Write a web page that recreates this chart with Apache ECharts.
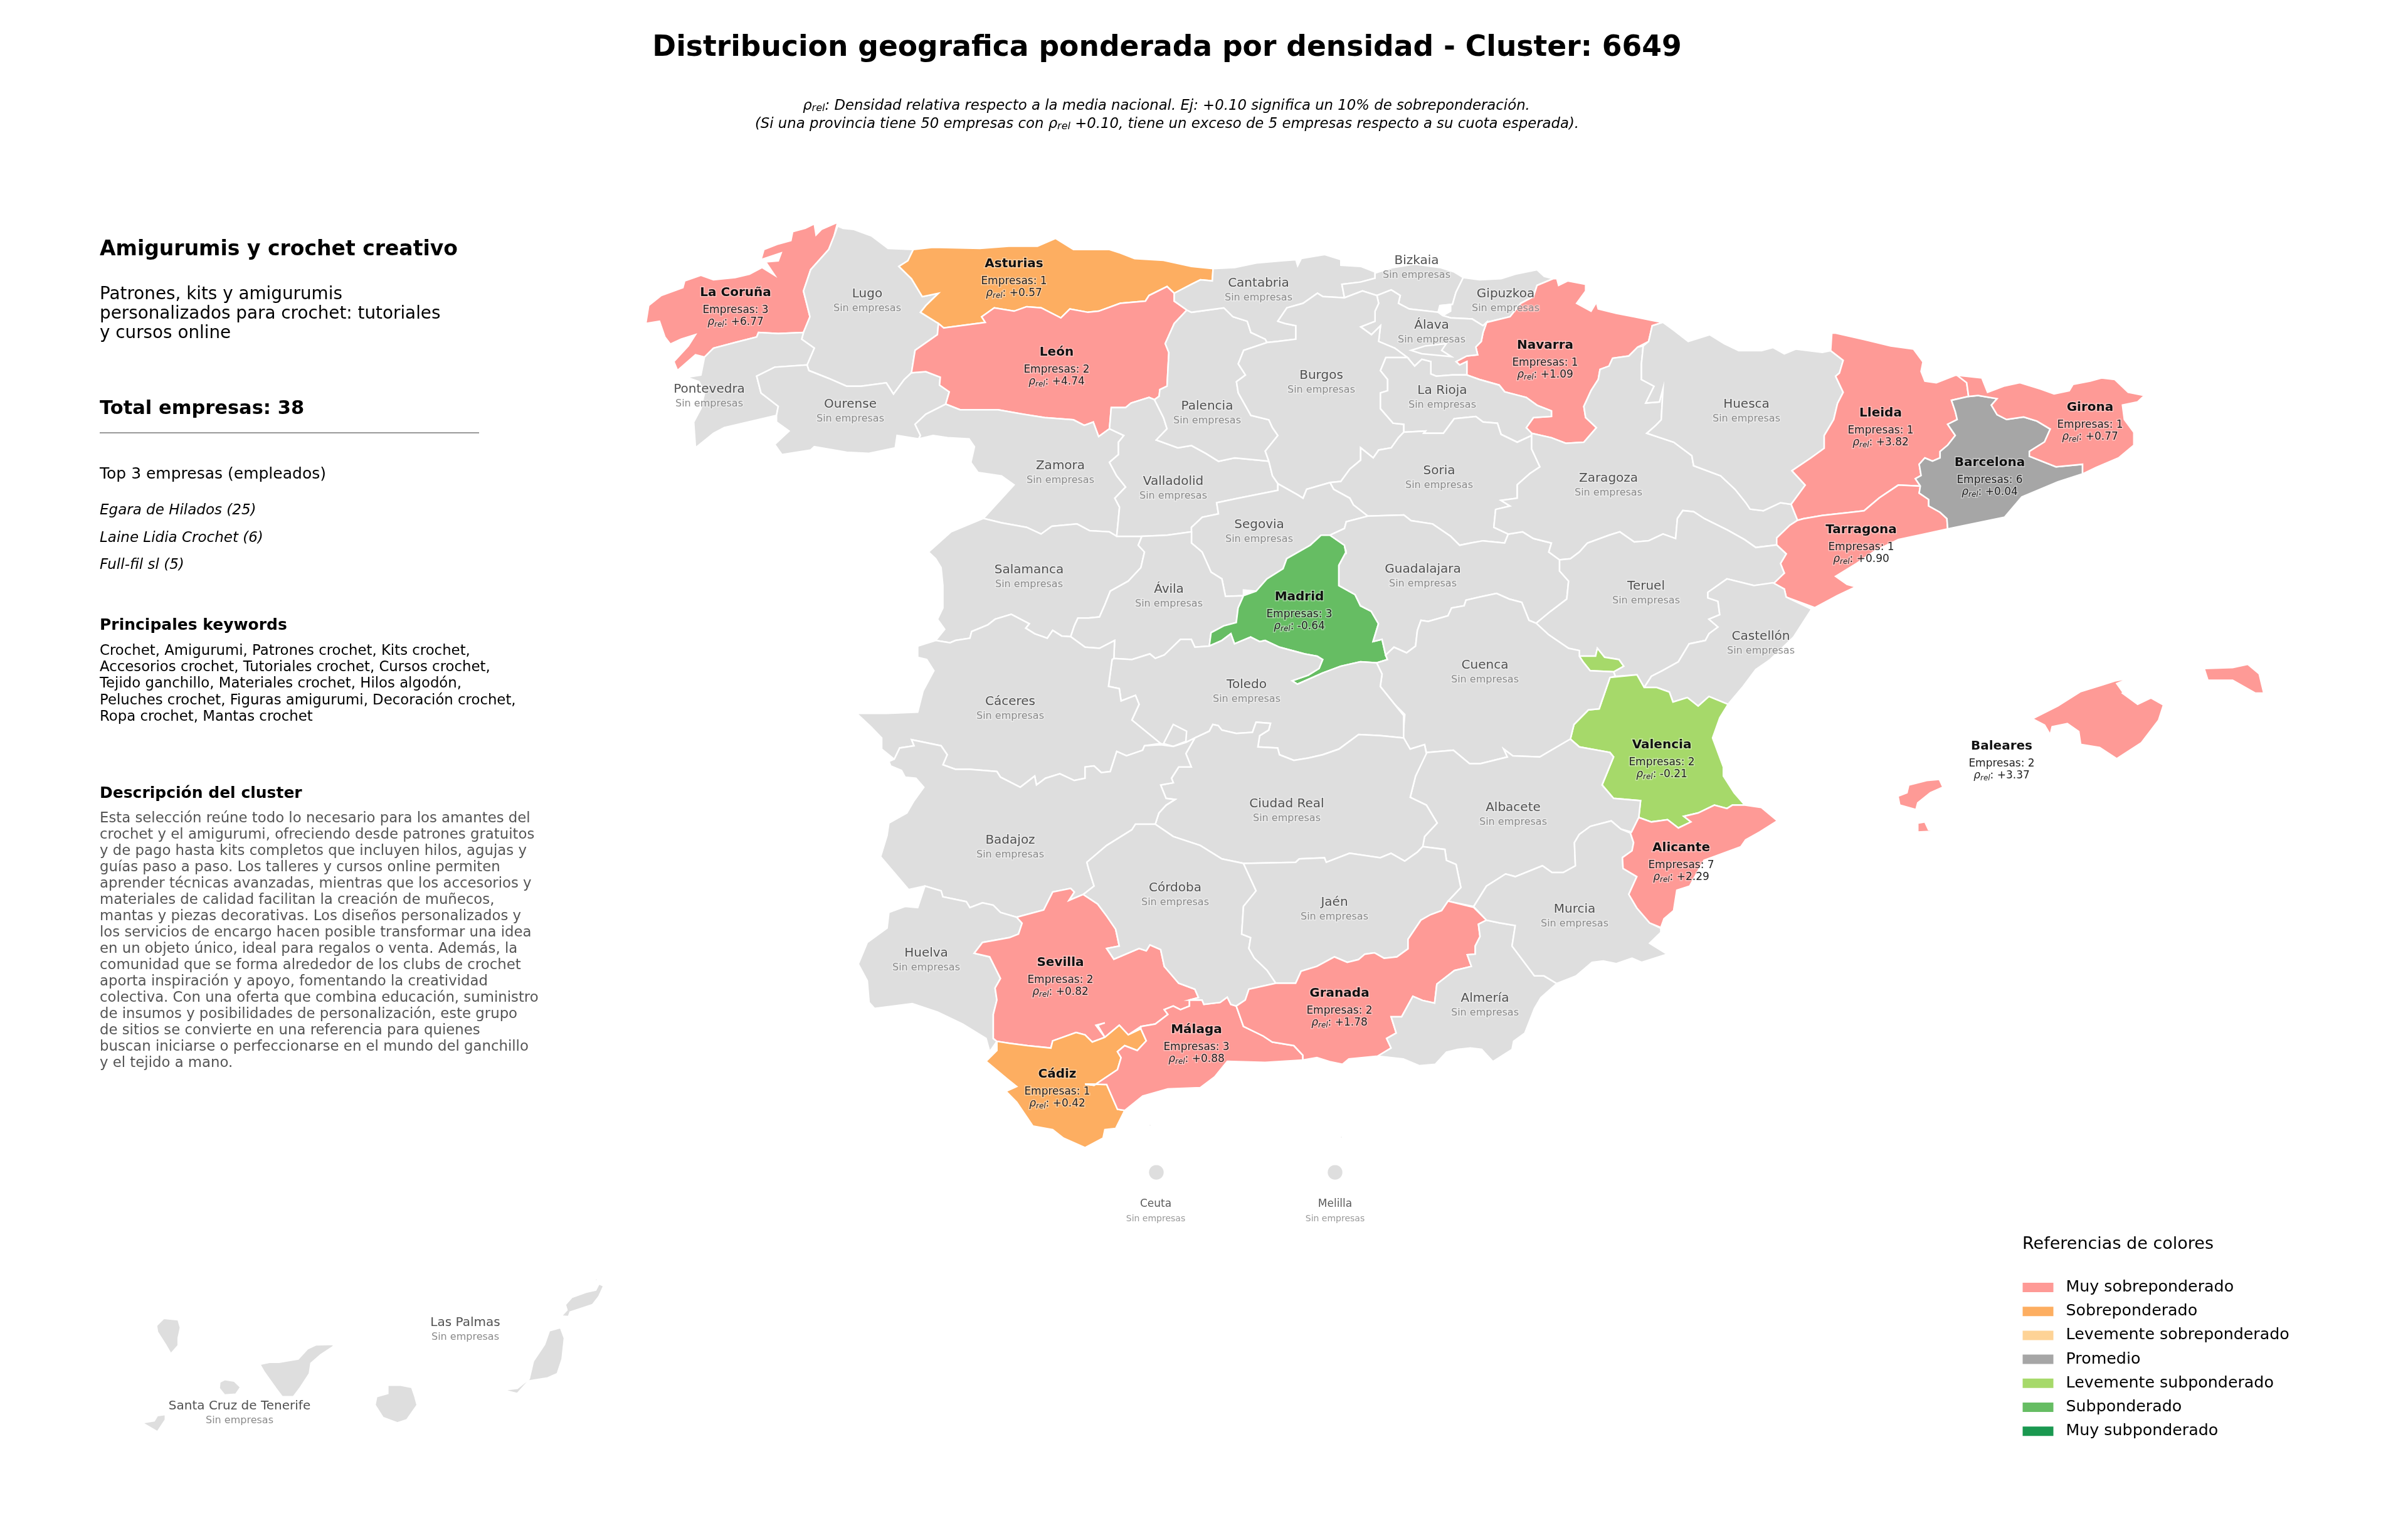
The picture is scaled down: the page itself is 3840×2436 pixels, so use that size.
<!DOCTYPE html>
<html><head><meta charset="utf-8">
<style>html,body{margin:0;padding:0;background:#fff}#c{width:3840px;height:2436px}</style>
<script src="https://cdn.jsdelivr.net/npm/echarts@6/dist/echarts.min.js"></script>
</head><body><div id="c"></div>
<script>
// ---------- data ----------
const CATEGORIES = ['Muy sobreponderado','Sobreponderado','Levemente sobreponderado','Promedio','Levemente subponderado','Subponderado','Muy subponderado'];
const CATEGORY_COLORS = ['#fe9a96','#fdae61','#fed396','#a6a6a6','#a6d96a','#66bd63','#1a9850'];
const NO_DATA_COLOR = '#dedede';
const ACTIVE_PROVINCES = ['La Coruña','Asturias','León','Navarra','Lleida','Girona','Barcelona','Tarragona','Madrid','Valencia','Alicante','Baleares','Sevilla','Málaga','Granada','Cádiz'];
const ACTIVE_EMPRESAS  = [3,1,2,1,1,1,6,1,3,2,7,2,2,3,2,1];
const ACTIVE_RHO       = [6.77,0.57,4.74,1.09,3.82,0.77,0.04,0.90,-0.64,-0.21,2.29,3.37,0.82,0.88,1.78,0.42];
const ACTIVE_CATEGORY  = [0,1,0,0,0,0,3,0,5,4,0,0,0,0,0,1];
const TITLE_TEXT = 'Distribucion geografica ponderada por densidad - Cluster: 6649';
const HEADLINE = 'Amigurumis y crochet creativo';
const TAGLINE = ['Patrones, kits y amigurumis','personalizados para crochet: tutoriales','y cursos online'];
const TOTAL_TEXT = 'Total empresas: 38';
const TOP_TITLE = 'Top 3 empresas (empleados)';
const TOP_COMPANIES = ['Egara de Hilados (25)','Laine Lidia Crochet (6)','Full-fil sl (5)'];
const KEYWORDS_TITLE = 'Principales keywords';
const KEYWORDS = ['Crochet, Amigurumi, Patrones crochet, Kits crochet,','Accesorios crochet, Tutoriales crochet, Cursos crochet,','Tejido ganchillo, Materiales crochet, Hilos algodón,','Peluches crochet, Figuras amigurumi, Decoración crochet,','Ropa crochet, Mantas crochet'];
const DESC_TITLE = 'Descripción del cluster';
const DESCRIPTION = ['Esta selección reúne todo lo necesario para los amantes del','crochet y el amigurumi, ofreciendo desde patrones gratuitos','y de pago hasta kits completos que incluyen hilos, agujas y','guías paso a paso. Los talleres y cursos online permiten','aprender técnicas avanzadas, mientras que los accesorios y','materiales de calidad facilitan la creación de muñecos,','mantas y piezas decorativas. Los diseños personalizados y','los servicios de encargo hacen posible transformar una idea','en un objeto único, ideal para regalos o venta. Además, la','comunidad que se forma alrededor de los clubs de crochet','aporta inspiración y apoyo, fomentando la creatividad','colectiva. Con una oferta que combina educación, suministro','de insumos y posibilidades de personalización, este grupo','de sitios se convierte en una referencia para quienes','buscan iniciarse o perfeccionarse en el mundo del ganchillo','y el tejido a mano.'];
const LEGEND_TITLE = 'Referencias de colores';

// ---------- map geometry: traced outlines, each token group "crop x,y ..." ----------
const CROPS = {a:[1000,330,1.742,2.8],b:[1900,330,1.742,2.8],c:[2700,480,1.6505,1.96],d:[1340,880,1.742,2.8],e:[2200,880,1.742,2.8],f:[1340,1380,1.742,2.613],g:[2100,1300,1.96,2.306],h:[200,2000,1.96,3]};
const OUTLINES = {
'La Coruña':['a 585,68 540,100 525,125 520,75 495,95 460,110 455,150 420,165 380,190 372,235 428,205 420,240 385,245 410,305 375,270 340,300 300,315 240,325 205,305 160,330 155,360 95,395 60,440 52,520 90,510 105,580 120,612 150,590 190,570 170,620 130,690 140,730 190,660 215,670 240,630 300,605 360,580 365,560 420,565 490,560 508,490 490,375 510,280 560,190 575,130'],
'Lugo':['a 585,85 600,95 630,100 680,130 725,185 795,190 780,240 755,265 790,320 820,400 865,385 830,440 815,470 865,520 862,570 800,640 790,740 770,770 740,835 720,785 650,800 610,800 560,765 505,730 500,705 520,630 485,590 490,560 508,490 490,375 510,280 560,190 575,130'],
'Pontevedra':['a 215,670 205,750 165,760 200,780 215,830 205,900 185,960 190,1075 240,1010 270,985 415,930 420,890 372,830 360,755 410,715 500,705 520,630 485,590 490,560 420,565 365,560 360,580 300,605 240,630'],
'Ourense':['a 500,705 505,730 560,765 610,800 650,800 720,785 740,835 770,770 790,740 830,735 870,760 868,795 895,825 885,880 830,925 800,970 815,1020 810,1035 750,1020 745,1075 670,1100 610,1095 520,1070 510,1085 430,1105 410,1060 450,1000 415,960 415,930 420,890 372,830 360,755 410,715'],
'Asturias':['a 795,190 850,180 980,185 1060,175 1140,175 1190,140 1240,190 1340,190 1370,205 1410,230 1490,238 1568,265 b 60,275 58,330 25,325 a 1568,345 1520,385 1500,355 1450,395 1440,420 1370,430 1310,465 1280,470 1230,455 1205,495 1150,450 1110,445 1075,465 1020,450 985,490 995,515 880,540 865,520 815,470 830,440 865,385 820,400 790,320 755,265 780,240'],
'León':['a 880,540 995,515 985,490 1020,450 1075,465 1110,445 1150,450 1205,495 1230,455 1280,470 1310,465 1370,430 1440,420 1450,395 1500,355 1520,385 1520,420 1555,460 1520,520 1495,610 1505,650 1500,800 1480,815 1478,845 1465,860 1450,850 1400,875 1385,895 1345,895 1340,990 1310,1025 1295,960 1270,975 1240,950 1160,940 1100,925 1030,905 970,905 925,905 885,880 895,825 868,795 870,760 830,735 790,740 800,640 862,570 865,520'],
'Zamora':['a 885,880 925,905 970,905 1030,905 1100,925 1160,940 1240,950 1270,975 1295,960 1310,1025 1340,990 1380,1020 1365,1050 1365,1105 1340,1140 1360,1200 1385,1250 1355,1300 1368,1340 1362,1440 1360,1470 1340,1450 1285,1445 1250,1415 1180,1425 1150,1460 1110,1430 1040,1410 990,1390 1075,1240 1040,1200 975,1185 955,1140 965,1070 950,1035 890,1030 850,1020 810,1035 815,1020 800,970 830,925'],
'Salamanca':['a 990,1390 1040,1410 1110,1430 1150,1460 1180,1425 1250,1415 1285,1445 1340,1450 1360,1470 1430,1470 1420,1510 d 845,0 835,70 800,130 750,175 735,235 720,290 690,295 660,295 650,330 640,378 615,375 590,350 575,385 540,365 515,340 525,320 475,278 430,300 410,325 365,355 360,385 320,395 305,405 265,395 290,345 270,300 285,250 285,150 280,70 265,30 245,0 a 900,1450'],
'Valladolid':['a 1465,860 1450,850 1400,875 1385,895 1345,895 1340,990 1380,1020 1365,1050 1365,1105 1340,1140 1360,1200 1385,1250 1355,1300 1368,1340 1362,1440 1360,1470 1430,1470 1500,1465 1568,1450 b 0,1430 30,1385 75,1370 70,1320 130,1300 240,1265 240,1235 225,1200 215,1135 120,1120 75,1135 40,1100 0,1065 a 1530,1075 1470,1040 1500,990 1490,940'],
'Palencia':['a 1555,460 b 0,470 90,450 115,490 155,510 165,560 205,590 210,605 145,640 130,700 150,750 125,780 130,830 165,930 215,950 225,985 240,1020 205,1090 215,1135 120,1120 75,1135 40,1100 0,1065 a 1530,1075 1470,1040 1500,990 1490,940 1465,860 1478,845 1480,815 1500,800 1505,650 1495,610 1520,520'],
'Cantabria':['b 60,275 120,270 180,250 250,240 290,235 295,262 305,230 370,212 415,235 415,260 470,265 510,290 510,318 470,335 418,345 425,405 365,400 350,385 310,430 265,450 240,510 260,520 290,530 290,590 240,600 210,605 205,590 165,560 155,510 115,490 90,450 0,470 a 1555,460 1520,420 1520,385 1568,345 b 25,325 58,330'],
'Bizkaia':['b 418,345 470,335 510,318 510,295 560,270 620,255 690,270 730,290 755,315 735,380 725,435 690,440 685,470 605,455 575,430 580,395 555,370 515,395 475,375 425,405'],
'Gipuzkoa':['b 755,315 800,325 860,320 900,300 960,280 980,310 1005,320 960,350 950,400 915,430 885,490 820,515 810,530 780,500 720,495 698,485 720,465 720,435 690,440 725,435 735,380'],
'Navarra':['b 1005,320 1015,320 1020,350 1045,330 1095,345 1095,375 1070,430 1110,465 1125,425 1130,455 1180,475 1230,490 1290,510 1310,515 1280,530 1270,600 1240,625 1215,665 1170,675 1160,710 1135,725 1130,770 1110,820 1090,890 1095,940 1125,985 1090,1050 1040,1055 1000,1030 945,1010 930,985 950,940 1000,935 1000,910 960,885 930,850 870,825 855,795 800,770 765,750 765,690 745,705 735,690 765,665 795,660 790,625 805,600 810,560 820,515 885,490 915,430 950,400 960,350'],
'Álava':['b 515,395 555,370 580,395 575,430 605,455 685,470 698,485 720,495 780,500 810,530 820,515 810,560 805,600 790,625 795,660 765,665 735,690 745,705 765,690 765,750 725,750 680,755 665,745 665,690 640,680 620,710 600,672 565,630 520,600 525,530 500,570 470,535 510,510 510,465 520,430'],
'Burgos':['b 210,605 240,600 290,590 290,530 260,520 240,510 265,450 310,430 350,385 365,400 425,405 475,375 515,395 520,430 510,465 510,510 470,535 500,570 525,530 520,600 565,630 600,672 540,672 525,730 545,770 545,820 525,830 525,900 560,965 590,970 590,1005 575,1030 555,1075 520,1085 505,1120 470,1075 470,1130 440,1170 415,1225 385,1230 320,1260 310,1300 295,1285 240,1235 225,1200 215,1135 205,1090 240,1020 225,985 215,950 165,930 130,830 125,780 150,750 130,700 145,640','b 610,640 640,655 722,668 695,640 708,610 650,620'],
'La Rioja':['b 540,672 600,672 620,710 640,680 665,690 665,745 680,755 725,750 765,750 800,770 855,795 870,825 930,850 960,885 1000,910 1000,935 950,940 930,985 945,1010 945,1020 905,1050 860,1015 850,965 810,960 790,935 730,945 700,1010 645,1010 650,1000 590,1005 590,970 560,965 525,900 525,830 545,820 545,770 525,730'],
'Soria':['b 385,1230 415,1225 440,1170 470,1130 470,1075 505,1120 520,1085 555,1075 575,1030 590,1005 650,1000 645,1010 700,1010 730,945 790,935 810,960 850,965 860,1015 905,1050 945,1020 945,1080 968,1160 940,1190 905,1240 905,1300 860,1310 885,1335 845,1350 840,1430 880,1460 870,1500 810,1490 775,1500 745,1510 720,1470 670,1415 610,1400 590,1375 490,1380 450,1330 440,1300 395,1260'],
'Segovia':['b 0,1430 30,1385 75,1370 70,1320 130,1300 240,1265 240,1235 295,1285 310,1300 320,1260 385,1230 395,1260 440,1300 450,1330 490,1380 430,1405 425,1435 385,1465 360,1465 330,1510 d 1240,30 1230,75 1185,120 1155,175 1120,170 1120,195 1070,198 1060,120 1030,90 1005,0 b 0,1500'],
'Ávila':['a 1430,1470 1500,1465 1568,1450 b 0,1500 d 1005,0 1030,90 1060,120 1070,198 1120,195 1105,250 1100,315 1065,330 1030,360 1025,420 985,425 975,390 945,390 900,460 875,475 860,455 810,480 760,475 762,395 720,430 680,425 640,378 650,330 660,295 690,295 720,290 735,235 750,175 800,130 835,70 845,0 a 1420,1510'],
'Madrid':['b 360,1465 385,1465 425,1510 430,1550 d 1405,0 1385,60 1385,150 1430,190 1445,240 1475,265 1495,320 1480,400 1505,390 1515,460 1520,480 1490,495 1445,490 1390,510 1340,540 1270,590 1255,575 1300,550 1330,520 1340,480 1325,465 1290,455 1220,425 1180,395 1165,400 1140,380 1095,410 1085,365 1060,395 1025,420 1030,360 1065,330 1100,315 1105,250 1120,195 1155,175 1185,120 1230,75 1240,30 b 330,1510'],
'Guadalajara':['b 385,1465 425,1435 430,1405 490,1380 590,1375 610,1400 670,1415 720,1470 745,1510 775,1500 810,1490 870,1500 880,1460 920,1450 950,1480 1000,1500 e 470,0 500,35 500,85 525,130 520,210 475,265 435,318 415,305 395,225 360,210 325,185 280,200 240,215 235,240 200,250 190,285 135,310 115,305 105,350 100,420 75,450 40,425 d 1515,460 1505,390 1480,400 1495,320 1475,265 1445,240 1430,190 1385,150 1385,60 1405,0 b 430,1550 425,1510'],
'Zaragoza':['b 945,1020 945,1010 1000,1030 1040,1055 1090,1050 1125,985 1095,940 1090,890 1110,820 1130,770 1135,725 1160,710 1170,675 1215,665 1240,625 1255,620 1250,700 1250,770 1285,800 1262,875 1300,870 1310,810 1305,950 1290,975 1265,1010 1340,1050 1390,1110 1395,1155 1470,1200 1510,1260 1540,1320 c 150,650 185,655 230,630 258,635 275,685 255,700 220,740 220,762 165,770 135,745 90,715 30,680 b 1395,1360 1365,1355 1350,1390 1345,1480 1310,1460 1270,1490 1230,1495 1190,1450 1160,1465 1100,1500 e 555,0 530,30 500,35 470,0 b 1000,1500 950,1480 920,1450 880,1460 840,1430 845,1350 885,1335 860,1310 905,1300 905,1240 940,1190 968,1160 945,1080'],
'Huesca':['b 1255,620 1270,600 1280,530 1310,515 1340,550 1380,600 1440,570 1480,610 c 120,155 180,155 210,145 240,165 270,150 340,160 362,155 395,185 385,225 375,235 395,285 380,320 370,370 345,420 345,460 310,490 260,530 295,575 258,635 230,630 185,655 150,650 b 1540,1320 1510,1260 1470,1200 1395,1155 1390,1110 1340,1050 1265,1010 1290,975 1305,950 1310,810 1300,870 1262,875 1285,800 1250,770 1250,700'],
'Lleida':['c 362,155 365,100 375,100 450,120 520,140 580,150 605,190 600,220 610,250 640,255 690,232 695,232 720,255 725,298 680,310 690,345 695,370 670,385 690,420 670,450 650,470 650,490 630,500 610,490 595,510 600,545 585,555 598,578 540,575 490,615 450,655 415,660 340,670 290,680 275,685 258,635 295,575 260,530 310,490 345,460 345,420 370,370 380,320 395,285 375,235 385,225 395,185'],
'Tarragona':['c 598,578 595,600 620,620 620,640 650,660 668,680 670,712 600,730 540,745 480,780 430,820 375,860 405,885 428,893 380,920 320,958 245,925 240,900 210,880 240,850 230,820 245,790 220,762 220,740 255,700 275,685 290,680 340,670 415,660 450,655 490,615 540,575','c 348,948 370,942 355,950'],
'Barcelona':['c 725,298 750,295 800,305 785,325 800,355 825,370 870,362 905,375 940,400 925,440 885,470 885,485 955,518 1025,510 1025,540 960,565 865,612 820,675 670,712 668,680 650,660 620,640 620,620 595,600 598,578 585,555 600,545 595,510 610,490 630,500 650,490 650,470 670,450 690,420 670,385 695,370 690,345 680,310'],
'Girona':['c 695,232 760,240 775,285 820,265 860,255 915,275 950,290 990,280 1000,260 1045,250 1075,240 1110,245 1145,285 1188,295 1170,315 1130,325 1135,370 1160,410 1160,450 1120,490 1060,520 1025,540 1025,510 955,518 885,485 885,470 925,440 940,400 905,375 870,362 825,370 800,355 785,325 800,305 750,295 725,298 720,255'],
'Teruel':['e 500,35 500,85 525,130 520,210 475,265 435,318 470,370 525,430 555,440 555,465 600,465 605,430 625,470 665,480 678,510 650,535 655,555 715,548 735,605 755,555 785,530 830,490 860,410 905,395 915,365 940,335 915,300 945,280 940,220 912,205 912,180 965,120 1040,150 1095,140 c 240,850 230,820 245,790 220,762 165,770 135,745 90,715 30,680 b 1395,1360 1365,1355 1350,1390 1345,1480 1310,1460 1270,1490 1230,1495 1190,1450 1160,1465 1100,1500 e 555,0 530,30'],
'Castellón':['e 735,605 770,605 805,625 815,670 855,650 885,688 915,645 968,680 1010,600 1045,525 1085,480 1150,380 1200,255 c 245,925 240,900 210,880 e 1040,150 965,120 912,180 912,205 940,220 945,280 915,300 940,335 915,365 905,395 860,410 830,490 785,530 755,555'],
'Valencia':['e 640,560 715,548 735,605 770,605 805,625 815,670 855,650 885,688 915,645 968,680 945,740 925,830 955,960 955,1000 985,1075 1015,1130 980,1130 965,1145 930,1130 885,1165 845,1180 865,1205 830,1232 800,1195 755,1205 720,1185 725,1110 650,1100 618,1040 650,915 640,895 555,870 530,835 540,770 580,705 610,700 625,630','e 555,465 600,465 605,430 625,470 665,480 678,510 650,535 585,530 565,490'],
'Cuenca':['e 435,318 470,370 525,430 555,440 555,465 565,490 585,530 650,535 655,555 640,560 625,630 610,700 580,705 540,770 530,835 445,915 370,910 345,880 355,915 280,945 250,945 205,885 130,895 125,860 85,880 65,825 70,725 d 1540,680 1500,600 1505,545 1490,495 1520,480 1515,460 e 40,425 75,450 100,420 105,350 115,305 135,310 190,285 200,250 235,240 240,215 280,200 325,185 360,210 395,225 415,305'],
'Albacete':['e 130,895 205,885 250,945 280,945 355,915 345,880 370,910 445,915 530,835 555,870 640,895 650,915 618,1040 650,1100 725,1110 720,1185 700,1250 g 950,50 920,20 855,40 820,70 805,100 808,185 770,210 735,210 705,185 620,225 590,215 530,260 490,335 410,315 450,265 435,180 405,165 400,125 330,115 e 125,1270 160,1210 130,1130 85,1095 100,1000'],
'Toledo':['d 760,475 810,480 860,455 875,475 900,460 945,390 975,390 985,425 1025,420 1060,395 1085,365 1095,410 1140,380 1165,400 1180,395 1220,425 1290,455 1325,465 1340,480 1330,520 1300,550 1255,575 1270,590 1340,540 1390,510 1445,490 1490,495 1505,545 1500,600 1540,680 1565,730 1565,830 1500,820 1440,815 1385,880 1340,905 1300,920 1260,930 1220,905 1215,875 1160,870 1165,820 1190,795 1195,765 1155,760 1145,805 1100,810 1060,795 1050,775 1035,770 1025,800 985,830 960,850 925,868 890,855 810,750 830,680 820,640 780,665 775,610 745,600 755,480'],
'Cáceres':['d 265,395 305,405 320,395 360,385 365,355 410,325 430,300 475,278 525,320 515,340 540,365 575,385 590,350 615,375 640,378 680,425 720,430 762,395 760,475 755,480 745,600 775,610 780,665 820,640 830,680 810,750 890,855 845,865 840,885 795,910 768,890 750,980 725,985 705,955 680,960 680,1010 650,1020 610,990 570,1010 545,1040 540,1000 500,1050 445,1005 435,980 360,970 320,970 285,950 297,905 280,865 198,838 205,865 165,875 150,925 115,880 115,830 85,780 45,720 130,720 215,715 230,620 260,530 240,480 215,470 215,420'],
'Ciudad Real':['d 985,830 1025,800 1035,770 1050,775 1060,795 1100,810 1145,805 1155,760 1195,765 1190,795 1165,820 1160,870 1215,875 1220,905 1260,930 1300,920 1340,905 1385,880 1440,815 1500,820 1565,830 e 85,880 125,860 130,900 100,1000 85,1095 130,1130 160,1210 125,1270 120,1315 105,1340 70,1380 d 1530,1345 1500,1365 1415,1345 1350,1385 1345,1365 1275,1370 1265,1385 1120,1390 1060,1370 1000,1310 925,1270 875,1215 885,1165 905,1130 930,1105 905,1100 890,1040 925,1030 920,1010 940,960 975,960 960,900','d 898,855 925,770 962,800 960,845 925,868'],
'Badajoz':['d 135,935 150,925 165,875 205,865 198,838 280,865 297,905 285,950 320,970 360,970 435,980 445,1005 500,1050 540,1000 545,1040 570,1010 610,990 650,1020 680,1010 680,960 705,955 725,985 750,980 768,890 795,910 840,885 845,865 890,860 925,868 960,850 985,830 960,900 975,960 940,960 920,1010 925,1030 890,1040 905,1100 930,1105 905,1130 885,1165 875,1215 820,1215 810,1240 740,1310 685,1385 690,1415 f 705,85 675,120 635,145 650,110 640,95 590,110 565,185 490,215 445,195 425,165 395,155 360,175 350,150 285,130 280,105 235,85 190,100 d 112,1360 130,1265 135,1210 185,1165 205,1110 232,1050 210,1010 180,1005 170,975 140,955'],
'Huelva':['f 235,85 215,175 180,170 135,195 130,260 75,320 50,410 75,480 80,570 95,595 200,575 270,610 340,660 405,720 415,775 435,732 425,720 425,620 435,560 430,510 445,470 415,380 372,365 395,320 470,300 495,285 505,240 490,215 445,195 425,165 395,155 360,175 350,150 285,130 280,105'],
'Sevilla':['f 490,215 565,185 590,110 640,95 650,110 635,145 675,120 715,160 740,210 765,265 775,335 740,345 760,390 830,345 850,355 860,330 890,350 900,420 940,490 985,515 995,550 970,560 970,585 945,600 925,585 900,600 910,620 875,660 835,670 800,705 775,665 735,715 715,665 735,655 710,665 735,715 700,735 680,705 655,695 590,730 585,760 520,750 470,740 435,732 425,720 425,620 435,560 430,510 445,470 415,380 372,365 395,320 470,300 495,285 505,240'],
'Cádiz':['f 435,732 470,740 520,750 585,760 590,730 655,695 680,705 700,735 735,715 775,665 800,705 835,680 850,730 825,770 790,750 770,775 780,800 770,850 705,915 680,910 740,912 770,1015 790,1020 765,1095 735,1100 730,1135 680,1175 620,1135 590,1100 535,1085 490,985 460,940 490,920 465,890 405,815 435,770'],
'Málaga':['f 835,670 875,660 910,620 900,600 925,585 945,600 970,585 970,560 1005,560 1010,578 1055,570 1075,548 1085,578 1100,585 1120,670 1175,710 1200,735 1260,750 1285,790 1285,810 1180,820 1075,815 1040,880 1000,925 910,930 840,960 790,1020 770,1015 740,912 680,910 705,915 770,850 780,800 770,775 790,750 825,770 850,730 835,680'],
'Córdoba':['d 875,1215 925,1270 1000,1310 1060,1370 1120,1390 f 1135,40 1155,105 1120,170 1115,285 1140,300 1135,345 1150,385 1185,435 1210,490 1135,515 1125,560 1100,585 1085,578 1075,548 1055,570 1010,578 1005,560 970,560 995,550 985,515 940,490 900,420 890,350 860,330 850,355 830,345 760,390 740,345 775,335 765,265 740,210 715,160 675,120 705,85 690,15 d 685,1385 740,1310 810,1240 820,1215'],
'Jaén':['d 1120,1390 1265,1385 1275,1370 1345,1365 1350,1385 1415,1345 1500,1365 1530,1345 1568,1380 e 105,1340 120,1315 g 400,125 405,165 435,180 450,265 410,315 390,350 355,365 325,385 285,455 285,490 250,520 210,525 180,505 150,510 130,530 95,540 55,520 0,555 f 1280,440 1265,490 1210,490 1185,435 1150,385 1135,345 1140,300 1115,285 1120,170 1155,105 1135,40'],
'Granada':['f 1100,585 1125,560 1135,515 1210,490 1265,490 1280,440 g 0,555 55,520 95,540 130,530 150,510 180,505 210,525 250,520 285,490 285,455 325,385 355,365 390,350 410,315 490,338 530,385 505,400 510,445 495,480 495,510 470,512 483,555 430,570 375,620 368,690 330,680 300,665 265,740 232,740 248,800 218,820 232,855 190,885 100,895 80,915 40,905 0,890 f 1285,810 1285,790 1260,750 1200,735 1175,710 1120,670'],
'Almería':['g 530,385 570,395 620,405 610,480 680,590 710,590 750,618 700,670 680,710 650,800 615,830 610,860 550,905 515,860 480,855 440,860 405,870 370,915 320,920 270,895 190,885 232,855 218,820 248,800 232,740 265,740 300,665 330,680 368,690 375,620 430,570 483,555 470,512 495,510 495,480 510,445 505,400'],
'Murcia':['g 490,335 530,260 590,215 620,225 705,185 735,210 770,210 808,185 805,100 820,70 855,40 920,20 950,50 980,65 990,100 985,130 955,155 957,195 1000,225 975,290 1000,340 1040,395 1075,415 1075,430 1040,470 1095,510 1015,540 985,525 935,545 895,535 860,540 810,590 750,618 710,590 680,590 610,480 620,405 570,395 530,385'],
'Alicante':['e 720,1185 755,1205 800,1195 830,1232 865,1205 845,1180 885,1165 930,1130 965,1145 980,1130 1015,1130 1060,1140 1105,1200 g 1385,60 1340,90 1325,115 1210,165 1165,260 1125,275 1115,350 1085,380 1075,412 1040,395 1000,340 975,290 1000,225 957,195 955,155 985,130 990,100 980,65 e 700,1250'],
'Baleares':['c 893,1305 960,1265 1020,1220 1075,1200 1110,1187 1150,1178 1115,1195 1130,1220 1150,1210 1130,1225 1170,1260 1205,1240 1238,1262 1225,1310 1180,1380 1115,1430 1070,1395 1020,1385 1015,1345 985,1320 945,1330 940,1355 925,1325','c 1345,1148 1420,1145 1460,1135 1490,1165 1502,1225 1480,1225 1420,1185 1355,1185','e 1440,1090 1465,1075 1470,1040 1520,1020 1555,1015 1565,1050 1530,1075 1495,1120 1490,1150 1445,1130','e 1495,1210 1515,1205 1525,1240 1555,1245 1495,1250','c 1072,1478 1080,1476 1078,1482'],
'Santa Cruz de Tenerife':['h 97,340 120,305 165,312 172,350 165,400 165,435 142,475 125,430 100,370','h 52,805 90,795 100,770 125,765 125,790 100,848 75,825','h 295,610 310,598 340,605 360,635 345,668 310,672 293,640','h 420,525 450,515 480,515 540,500 570,450 595,432 650,430 650,440 610,480 580,520 575,570 545,640 525,680 490,680 470,640 435,565'],
'Las Palmas':['h 820,625 860,625 895,635 905,680 912,720 880,790 850,805 805,780 780,720 785,680 820,665','h 1180,648 1225,640 1262,595 1275,510 1310,430 1325,365 1360,350 1372,400 1365,500 1350,570 1320,590 1260,605 1225,665','h 1362,295 1380,265 1375,240 1395,205 1440,180 1470,170 1480,140 1495,150 1480,200 1460,240 1390,275 1385,297','h 1465,125 1475,108 1475,125']
};
const ROUND_TERRITORIES = {'Ceuta':[[1844,1869,13],[1834,1794,2]],'Melilla':[[2129,1869,13],[2139,1813,2]]};
// where each province's name line sits
const NAME_ANCHORS = {'La Coruña':[1173,465],'Lugo':[1383,467],'Asturias':[1617,419],'León':[1685,560],'Pontevedra':[1131,619],'Ourense':[1356,643],'Zamora':[1691,741],'Valladolid':[1871,766],'Palencia':[1925,646],'Cantabria':[2007,450],'Bizkaia':[2259,414],'Gipuzkoa':[2401,467],'Álava':[2283,517],'Navarra':[2464,549],'Burgos':[2107,597],'La Rioja':[2300,621],'Soria':[2295,749],'Zaragoza':[2565,761],'Segovia':[2008,835],'Huesca':[2785,643],'Lleida':[2999,657],'Girona':[3333,648],'Barcelona':[3173,736],'Tarragona':[2968,843],'Castellón':[2808,1013],'Baleares':[3192,1188],'Salamanca':[1641,907],'Ávila':[1864,938],'Madrid':[2072,950],'Cáceres':[1611,1117],'Toledo':[1988,1090],'Ciudad Real':[2052,1280],'Badajoz':[1611,1338],'Córdoba':[1874,1414],'Guadalajara':[2269,906],'Teruel':[2625,933],'Cuenca':[2368,1059],'Valencia':[2650,1186],'Albacete':[2413,1286],'Alicante':[2681,1350],'Huelva':[1477,1518],'Sevilla':[1691,1533],'Málaga':[1908,1640],'Granada':[2136,1582],'Cádiz':[1686,1711],'Jaén':[2128,1437],'Ceuta':[1843,1918],'Melilla':[2129,1918],'Murcia':[2511,1448],'Almería':[2368,1590],'Santa Cruz de Tenerife':[382,2240],'Las Palmas':[742,2107]};

function parseRing(str){
  const pts=[];let crop=null;
  str.trim().split(/\s+/).forEach(tok=>{
    if(CROPS[tok]){crop=CROPS[tok];return;}
    const [x,y]=tok.split(',').map(Number);
    pts.push([crop[0]+x/crop[2],crop[1]+y/crop[3]]);
  });
  pts.push(pts[0].slice());
  return pts;
}
function circleRing(cx,cy,r){
  const pts=[];
  for(let i=0;i<=24;i++){const t=i/24*2*Math.PI;pts.push([cx+r*Math.cos(t),cy+r*Math.sin(t)]);}
  return pts;
}
const FONT='"DejaVu Sans"';
const activeIndex=n=>ACTIVE_PROVINCES.indexOf(n);
function labelCentre(name){
  const a=NAME_ANCHORS[name];
  return [a[0],a[1]+(activeIndex(name)>=0?21:13)];
}
const features=[];
Object.keys(OUTLINES).forEach(name=>{
  features.push({type:'Feature',properties:{name,cp:labelCentre(name)},geometry:{type:'MultiPolygon',coordinates:OUTLINES[name].map(r=>[parseRing(r)])}});
});
Object.keys(ROUND_TERRITORIES).forEach(name=>{
  features.push({type:'Feature',properties:{name,cp:labelCentre(name)},geometry:{type:'MultiPolygon',coordinates:ROUND_TERRITORIES[name].map(c=>[circleRing(c[0],c[1],c[2])])}});
});
echarts.registerMap('spain',{type:'FeatureCollection',features});

const HALO={textBorderColor:'rgba(255,255,255,0.4)',textBorderWidth:3};
const fmtRho=v=>(v>=0?'+':'-')+Math.abs(v).toFixed(2);
function regionLabel(p){
  const n=p.name,i=activeIndex(n);
  if(i>=0) return `{an|${n}}\n{ae|Empresas: ${ACTIVE_EMPRESAS[i]}}\n{ar|ρ}{as|rel}{av|: ${fmtRho(ACTIVE_RHO[i])}}`;
  if(ROUND_TERRITORIES[n]) return `{sn|${n}}\n{ss|Sin empresas}`;
  return `{gn|${n}}\n{gs|Sin empresas}`;
}
const regions=features.map(f=>{
  const i=activeIndex(f.properties.name);
  return {name:f.properties.name,itemStyle:{areaColor:i>=0?CATEGORY_COLORS[ACTIVE_CATEGORY[i]]:NO_DATA_COLOR}};
});

// ---------- side texts ----------
const txt=(text,x,y,size,extra)=>({type:'text',silent:true,x,y,style:Object.assign({text,fontSize:size,fontFamily:FONT,fill:'#000',align:'left',verticalAlign:'middle'},extra||{})});
const B={fontWeight:'bold'},I={fontStyle:'italic'};
const els=[];
const SUB_RICH={i:{fontSize:22.8,fontStyle:'italic',fontFamily:FONT,fill:'#000',color:'#000'},u:{fontSize:16,fontStyle:'italic',fontFamily:FONT,color:'#000',padding:[8,0,0,0],lineHeight:26}};
els.push(txt('{i|ρ}{u|rel}{i|: Densidad relativa respecto a la media nacional. Ej: +0.10 significa un 10% de sobreponderación.}',1860,169,23,{align:'center',rich:SUB_RICH}));
els.push(txt('{i|(Si una provincia tiene 50 empresas con ρ}{u|rel}{i| +0.10, tiene un exceso de 5 empresas respecto a su cuota esperada).}',1861,198,23,{align:'center',rich:SUB_RICH}));
els.push(txt(HEADLINE,159,398,33,B));
TAGLINE.forEach((t,i)=>els.push(txt(t,159,470+i*30.8,27.8)));
els.push(txt(TOTAL_TEXT,159,652,30.5,B));
els.push({type:'line',silent:true,shape:{x1:159,y1:690,x2:764,y2:690},style:{stroke:'#999',lineWidth:2}});
els.push(txt(TOP_TITLE,159,756,25));
[814,858,901].forEach((y,i)=>els.push(txt(TOP_COMPANIES[i],159,y,23,I)));
els.push(txt(KEYWORDS_TITLE,159,997,25,B));
[1038,1064,1090,1117,1143].forEach((y,i)=>els.push(txt(KEYWORDS[i],159,y,22.8)));
els.push(txt(DESC_TITLE,159,1265,25,B));
DESCRIPTION.forEach((t,i)=>els.push(txt(t,159,1305+i*26,22.8,{fill:'#555'})));
els.push(txt(LEGEND_TITLE,3225,1984,27));

const chart=echarts.init(document.getElementById('c'),null,{width:3840,height:2436,renderer:'canvas'});
chart.setOption({
  animation:false,
  backgroundColor:'#fff',
  title:{text:TITLE_TEXT,left:1856,top:49,textAlign:'center',textStyle:{fontFamily:FONT,fontSize:45.6,fontWeight:'bold',color:'#000'}},
  legend:{
    orient:'vertical',left:3225.5,top:2040,padding:0,itemWidth:49,itemHeight:15,itemGap:13.2,icon:'rect',selectedMode:false,
    data:CATEGORIES,
    textStyle:{fontFamily:FONT,fontSize:25.3,color:'#000',padding:[0,0,0,15]}
  },
  geo:{
    map:'spain',roam:false,silent:true,aspectScale:1,
    projection:{project:p=>p,unproject:p=>p},
    boundingCoords:[[0,0],[3840,2436]],
    left:0,top:0,width:3840,height:2436,
    itemStyle:{areaColor:NO_DATA_COLOR,borderColor:'#fff',borderWidth:2.5},
    emphasis:{disabled:true},
    regions,
    label:{
      show:true,fontFamily:FONT,formatter:regionLabel,
      rich:{
        an:Object.assign({fontFamily:FONT,fontSize:20,fontWeight:'bold',color:'#111',lineHeight:34},HALO),
        ae:Object.assign({fontFamily:FONT,fontSize:17,color:'#222',lineHeight:22},HALO),
        ar:Object.assign({fontFamily:FONT,fontSize:17,fontStyle:'italic',color:'#222',lineHeight:16},HALO),
        as:Object.assign({fontFamily:FONT,fontSize:12,fontStyle:'italic',color:'#222',lineHeight:16,padding:[8,0,0,0]},HALO),
        av:Object.assign({fontFamily:FONT,fontSize:17,color:'#222',lineHeight:16},HALO),
        gn:Object.assign({fontFamily:FONT,fontSize:20,color:'#505050',lineHeight:24},HALO),
        gs:Object.assign({fontFamily:FONT,fontSize:16,color:'#8a8a8a',lineHeight:22},HALO),
        sn:Object.assign({fontFamily:FONT,fontSize:17,color:'#5a5a5a',lineHeight:24},HALO),
        ss:Object.assign({fontFamily:FONT,fontSize:14,color:'#999',lineHeight:22},HALO)
      }
    }
  },
  series:CATEGORIES.map((name,i)=>({type:'scatter',coordinateSystem:'geo',name,data:[],itemStyle:{color:CATEGORY_COLORS[i],opacity:1}})),
  graphic:{elements:els}
});
</script></body></html>
